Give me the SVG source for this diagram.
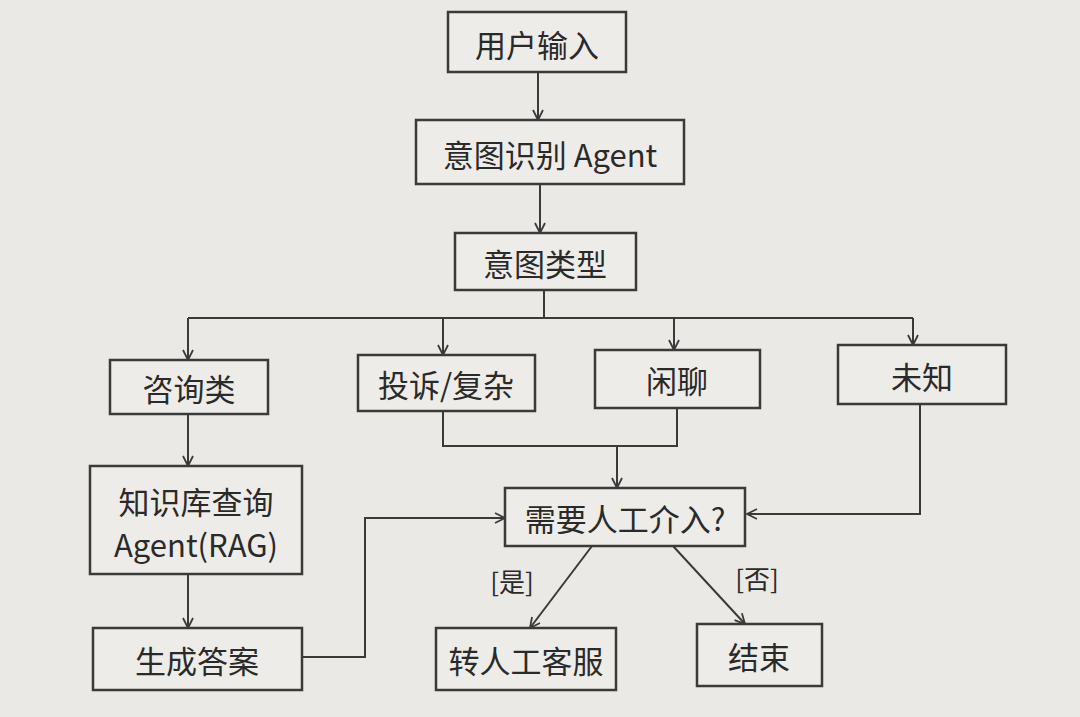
<svg xmlns="http://www.w3.org/2000/svg" width="1080" height="717" viewBox="0 0 1080 717">
<defs>
<marker id="ah" viewBox="0 0 12 12" refX="11" refY="6" markerWidth="12" markerHeight="12" markerUnits="userSpaceOnUse" orient="auto"><path d="M1,1 L11,6 L1,11" fill="none" stroke="#3a3a3a" stroke-width="1.8"/></marker>
<style>
.b{fill:#eeece8;stroke:#3a3a3a;stroke-width:2.5}
.t{font-family:"Noto Sans CJK SC","Noto Sans",sans-serif;font-size:31px;fill:#2a2a2a;text-anchor:middle;dominant-baseline:central}
.l{font-family:"Noto Sans CJK SC","Noto Sans",sans-serif;font-size:26px;fill:#2a2a2a;text-anchor:middle;dominant-baseline:central}
.c{fill:none;stroke:#3a3a3a;stroke-width:2}
</style>
</defs>
<rect width="1080" height="717" fill="#ebe9e5"/>
<g id="connectors">
<path class="c" d="M538,72 V120" marker-end="url(#ah)"/>
<path class="c" d="M540,184 V233" marker-end="url(#ah)"/>
<path class="c" d="M544,290 V318 M188,318 H913"/>
<path class="c" d="M188,318 V360" marker-end="url(#ah)"/>
<path class="c" d="M443,318 V355" marker-end="url(#ah)"/>
<path class="c" d="M674,318 V350" marker-end="url(#ah)"/>
<path class="c" d="M913,318 V345" marker-end="url(#ah)"/>
<path class="c" d="M443,411 V446 H677 V408"/>
<path class="c" d="M617,446 V488" marker-end="url(#ah)"/>
<path class="c" d="M920,404 V514 H747" marker-end="url(#ah)"/>
<path class="c" d="M188,414 V466" marker-end="url(#ah)"/>
<path class="c" d="M188,574 V628" marker-end="url(#ah)"/>
<path class="c" d="M302,657 H365 V518 H505" marker-end="url(#ah)"/>
<path class="c" d="M592,546 L530,628" marker-end="url(#ah)"/>
<path class="c" d="M673,546 L745,624" marker-end="url(#ah)"/>
<text class="l" x="512" y="580">[是]</text>
<text class="l" x="757" y="577">[否]</text>
</g>
<g id="n1"><rect class="b" x="448" y="12" width="178" height="60"/><text class="t" x="537" y="43">用户输入</text></g>
<g id="n2"><rect class="b" x="416" y="120" width="268" height="64"/><text class="t" x="550" y="153">意图识别 Agent</text></g>
<g id="n3"><rect class="b" x="455" y="233" width="181" height="57"/><text class="t" x="545" y="262">意图类型</text></g>
<g id="n4"><rect class="b" x="110" y="360" width="158" height="54"/><text class="t" x="189" y="387">咨询类</text></g>
<g id="n5"><rect class="b" x="358" y="355" width="177" height="56"/><text class="t" x="446" y="383">投诉/复杂</text></g>
<g id="n6"><rect class="b" x="595" y="350" width="165" height="58"/><text class="t" x="677" y="379">闲聊</text></g>
<g id="n7"><rect class="b" x="838" y="345" width="168" height="59"/><text class="t" x="922" y="375">未知</text></g>
<g id="n8"><rect class="b" x="90" y="466" width="212" height="108"/><text class="t" x="196" y="500">知识库查询</text><text class="t" x="196" y="543">Agent(RAG)</text></g>
<g id="n9"><rect class="b" x="93" y="628" width="209" height="62"/><text class="t" x="197" y="659">生成答案</text></g>
<g id="n10"><rect class="b" x="505" y="488" width="240" height="58"/><text class="t" x="625" y="517">需要人工介入?</text></g>
<g id="n11"><rect class="b" x="436" y="628" width="180" height="62"/><text class="t" x="526" y="659">转人工客服</text></g>
<g id="n12"><rect class="b" x="697" y="624" width="125" height="62"/><text class="t" x="759" y="655">结束</text></g>
</svg>
